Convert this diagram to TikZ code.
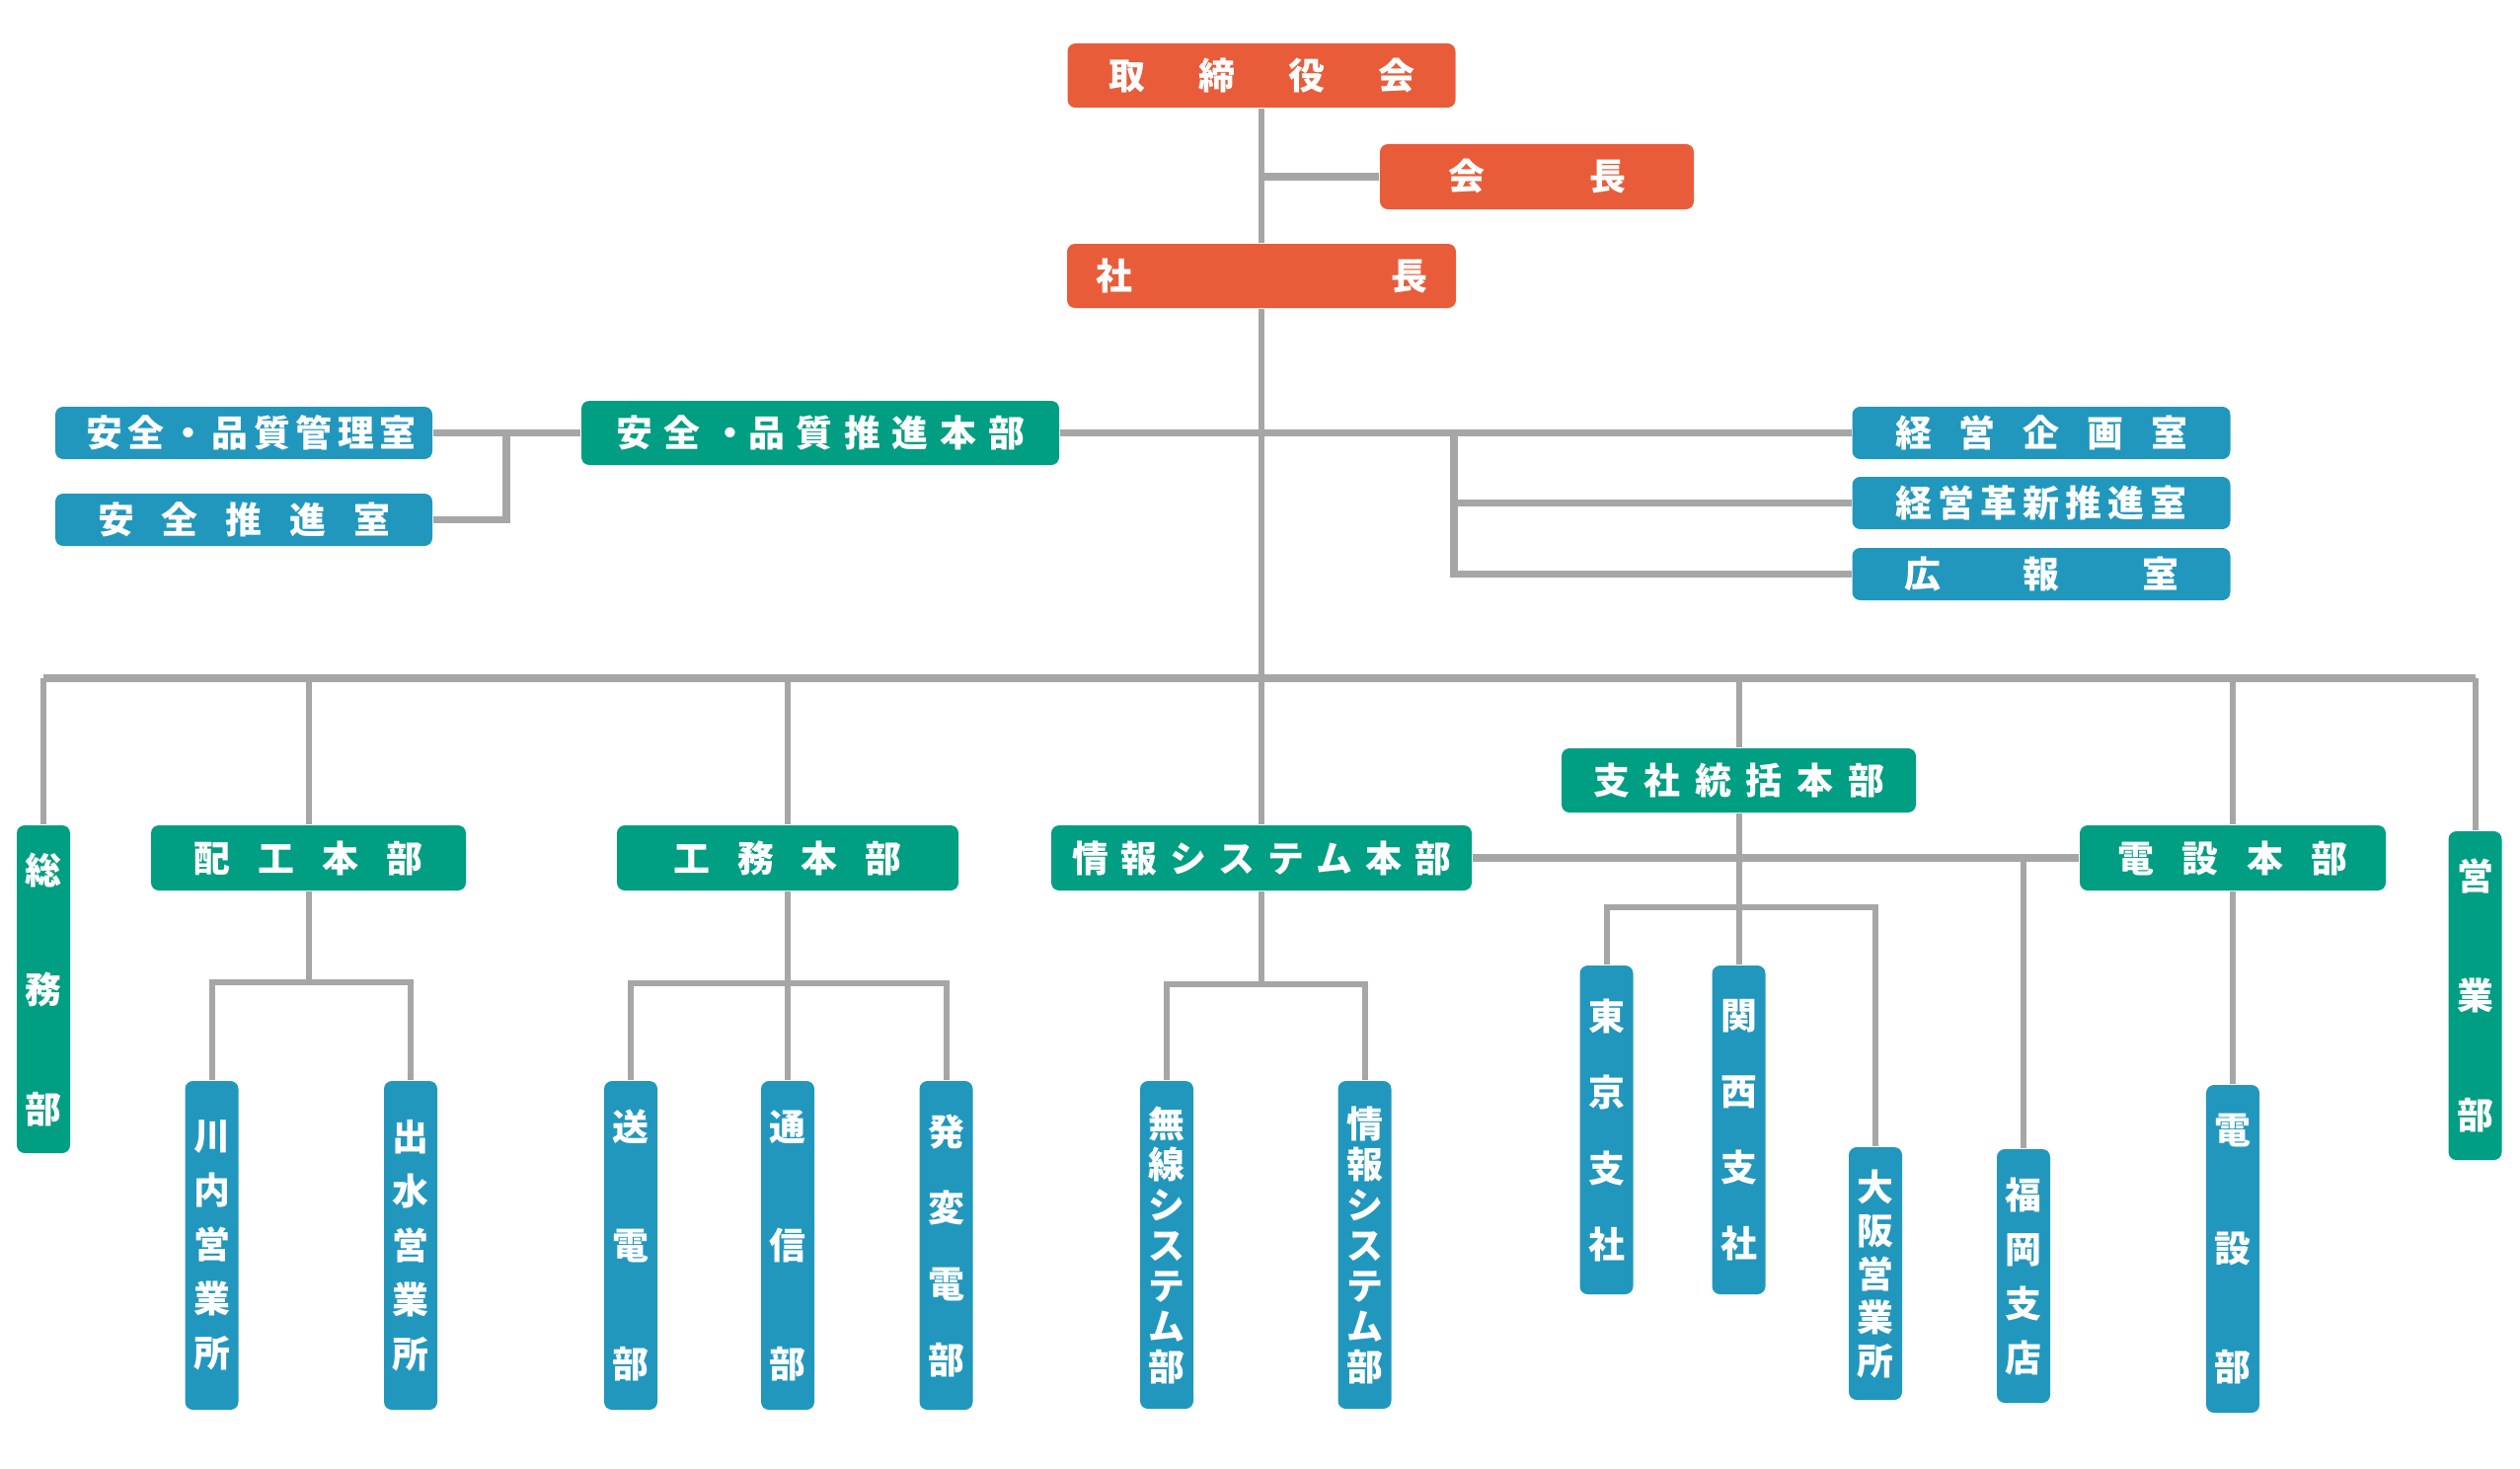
\documentclass[tikz,border=0pt]{standalone}
\usepackage{fontspec}
\newfontfamily\jp{Noto Sans CJK JP}
\usetikzlibrary{positioning}
\definecolor{headcolor}{RGB}{233,92,57}
\definecolor{maincolor}{RGB}{0,158,130}
\definecolor{subcolor}{RGB}{33,151,190}
\definecolor{linecolor}{RGB}{166,166,166}
\newcommand{\jspread}[2]{\makebox[#1][s]{#2}}

\begin{document}
\begin{tikzpicture}[
    box/.style={rectangle, rounded corners=0.08cm, inner sep=0pt, text=white, font=\jp\bfseries\fontsize{10.5pt}{12pt}\selectfont},
    headbox/.style={box, fill=headcolor, minimum height=0.65cm},
    mainbox/.style={box, fill=maincolor, minimum height=0.66cm},
    subbox/.style={box, fill=subcolor, minimum height=0.53cm},
    vmain/.style={box, fill=maincolor, minimum width=0.54cm, align=center, font=\jp\bfseries\fontsize{10.5pt}{#1}\selectfont},
    vsub/.style={box, fill=subcolor, minimum width=0.54cm, align=center, font=\jp\bfseries\fontsize{10.5pt}{#1}\selectfont},
    link/.style={draw=linecolor, line width=0.06cm},
    bar/.style={draw=linecolor, line width=0.075cm}
]
    \useasboundingbox (0,0) rectangle (25.53,-14.87);

    % Top
    \node[headbox, minimum width=3.93cm] (torishimari) at (12.78,-0.765) {\jspread{3.1cm}{取 締 役 会}};
    \node[headbox, minimum width=3.18cm, minimum height=0.66cm] (kaicho) at (15.57,-1.79) {\jspread{1.8cm}{会 長}};
    \node[headbox, minimum width=3.94cm] (shacho) at (12.78,-2.795) {\jspread{3.36cm}{社 長}};

    % Staff
    \node[subbox, minimum width=3.82cm] (anzenKanri) at (2.47,-4.385) {\jspread{3.2cm}{安 全 ・ 品 質 管 理 室}};
    \node[subbox, minimum width=3.82cm] (anzenSuishin) at (2.47,-5.265) {\jspread{2.96cm}{安 全 推 進 室}};
    \node[mainbox, minimum width=4.84cm, minimum height=0.65cm] (anzenHonbu) at (8.31,-4.385) {\jspread{4.14cm}{安 全 ・品 質 推 進 本 部}};
    \node[subbox, minimum width=3.83cm] (kikaku) at (20.68,-4.385) {\jspread{2.96cm}{経 営 企 画 室}};
    \node[subbox, minimum width=3.83cm] (kakushin) at (20.68,-5.095) {\jspread{2.95cm}{経 営 革 新 推 進 室}};
    \node[subbox, minimum width=3.83cm] (koho) at (20.68,-5.815) {\jspread{2.78cm}{広 報 室}};

    % Divisions
    \node[vmain=1.21cm, minimum height=3.32cm] (soumu) at (0.44,-10.02) {総\\務\\部};
    \node[mainbox, minimum width=3.19cm] (haiko) at (3.125,-8.69) {\jspread{2.32cm}{配 工 本 部}};
    \node[mainbox, minimum width=3.46cm] (komu) at (7.98,-8.69) {\jspread{2.31cm}{工 務 本 部}};
    \node[mainbox, minimum width=4.26cm] (johosys) at (12.78,-8.69) {\jspread{3.84cm}{情 報 シ ス テ ム 本 部}};
    \node[mainbox, minimum width=3.59cm, minimum height=0.65cm] (shisha) at (17.615,-7.905) {\jspread{2.95cm}{支 社 統 括 本 部}};
    \node[mainbox, minimum width=3.10cm] (densetsu) at (22.62,-8.69) {\jspread{2.33cm}{電 設 本 部}};
    \node[vmain=1.21cm, minimum height=3.33cm] (eigyo) at (25.075,-10.085) {営\\業\\部};

    % Sections
    \node[vsub=0.55cm, minimum height=3.33cm] (sendai) at (2.145,-12.615) {川\\内\\営\\業\\所};
    \node[vsub=0.55cm, minimum height=3.33cm] (izumi) at (4.16,-12.615) {出\\水\\営\\業\\所};
    \node[vsub=1.2cm, minimum height=3.33cm] (soden) at (6.39,-12.615) {送\\電\\部};
    \node[vsub=1.2cm, minimum height=3.33cm] (tsushin) at (7.98,-12.615) {通\\信\\部};
    \node[vsub=0.77cm, minimum height=3.33cm] (hatsuhen) at (9.585,-12.615) {発\\変\\電\\部};
    \node[vsub=0.41cm, minimum height=3.32cm] (musen) at (11.82,-12.61) {無\\線\\シ\\ス\\テ\\ム\\部};
    \node[vsub=0.41cm, minimum height=3.32cm] (johobu) at (13.825,-12.61) {情\\報\\シ\\ス\\テ\\ム\\部};
    \node[vsub=0.77cm, minimum height=3.33cm] (tokyo) at (16.275,-11.445) {東\\京\\支\\社};
    \node[vsub=0.77cm, minimum height=3.33cm] (kansai) at (17.615,-11.445) {関\\西\\支\\社};
    \node[vsub=0.44cm, minimum height=2.56cm] (osaka) at (19.00,-12.90) {大\\阪\\営\\業\\所};
    \node[vsub=0.55cm, minimum height=2.57cm] (fukuoka) at (20.5,-12.925) {福\\岡\\支\\店};
    \node[vsub=1.2cm, minimum height=3.32cm] (densetsubu) at (22.62,-12.65) {電\\設\\部};

    % Split points
    \coordinate (bar) at (0,-6.87);
    \coordinate (anzenMid) at (5.13,-4.385);
    \coordinate (kikakuMid) at (14.73,-4.385);
    \coordinate (haikoSplit) at (3.125,-9.95);
    \coordinate (komuSplit) at (7.98,-9.96);
    \coordinate (johoSplit) at (12.78,-9.97);
    \coordinate (shishaSplit) at (17.615,-9.19);

    % Lines
    \draw[link] (torishimari.south) -- (shacho.north);
    \draw[bar] (kaicho.west) -- (kaicho.west -| shacho.north);
    \draw[link] (shacho.south) -- (johosys.north);

    \draw[bar] (anzenKanri.east) -- (anzenHonbu.west);
    \draw[bar] (anzenSuishin.east) -| (anzenMid);
    \draw[bar] (anzenHonbu.east) -- (kikaku.west);
    \draw[bar] (kikakuMid) |- (koho.west);
    \draw[bar] (kakushin.west) -- (kakushin.west -| kikakuMid);

    \draw[bar] (soumu.north |- bar) -- (eigyo.north |- bar);
    \draw[link] (soumu.north) -- (soumu.north |- bar);
    \draw[link] (haiko.north) -- (haiko.north |- bar);
    \draw[link] (komu.north) -- (komu.north |- bar);
    \draw[link] (shisha.north) -- (shisha.north |- bar);
    \draw[link] (densetsu.north) -- (densetsu.north |- bar);
    \draw[link] (eigyo.north) -- (eigyo.north |- bar);

    \draw[link] (haiko.south) -- (haikoSplit);
    \draw[link] (sendai.north) |- (haikoSplit) -| (izumi.north);
    \draw[link] (komu.south) -- (tsushin.north);
    \draw[link] (soden.north) |- (komuSplit) -| (hatsuhen.north);
    \draw[link] (johosys.south) -- (johoSplit);
    \draw[link] (musen.north) |- (johoSplit) -| (johobu.north);

    \draw[bar] (johosys.east) -- (densetsu.west);
    \draw[link] (shisha.south) -- (kansai.north);
    \draw[link] (tokyo.north) |- (shishaSplit) -| (osaka.north);
    \draw[link] (fukuoka.north) -- (fukuoka.north |- johosys.east);
    \draw[link] (densetsu.south) -- (densetsubu.north);

\end{tikzpicture}
\end{document}
